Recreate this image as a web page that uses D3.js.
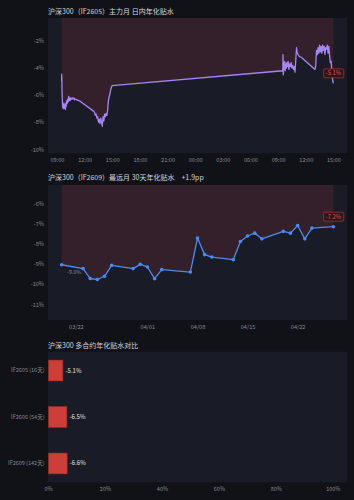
<!DOCTYPE html>
<html>
<head>
<meta charset="utf-8">
<script src="https://cdn.jsdelivr.net/npm/d3@7"></script>
<style>
  body { margin: 0; background: #111217; }
  text { font-family: "Noto Sans CJK SC", "Noto Sans", sans-serif; }
</style>
</head>
<body>
<script>
// ---- data ----
// intraday annualised basis of IF2605, two sessions
var intradayTimes = [
  "04-27 09:30","04-27 09:31","04-27 09:33","04-27 09:35","04-27 09:37","04-27 09:39","04-27 09:41","04-27 09:43",
  "04-27 09:45","04-27 09:47","04-27 09:49","04-27 09:51","04-27 09:53","04-27 09:55","04-27 09:58","04-27 10:01",
  "04-27 10:04","04-27 10:07","04-27 10:10","04-27 10:13","04-27 10:16","04-27 10:19","04-27 10:22","04-27 10:26",
  "04-27 10:30","04-27 10:35","04-27 10:40","04-27 10:45","04-27 10:50","04-27 10:55","04-27 11:00","04-27 11:10",
  "04-27 11:20","04-27 11:30","04-27 13:00","04-27 13:05","04-27 13:10","04-27 13:15","04-27 13:20","04-27 13:25",
  "04-27 13:30","04-27 13:35","04-27 13:40","04-27 13:45","04-27 13:50","04-27 13:55","04-27 14:00","04-27 14:05",
  "04-27 14:10","04-27 14:15","04-27 14:20","04-27 14:25","04-27 14:30","04-27 14:35","04-27 14:40","04-27 14:45",
  "04-27 14:50","04-27 14:55","04-27 15:00",
  "04-28 09:30","04-28 09:32","04-28 09:34","04-28 09:37","04-28 09:40","04-28 09:43","04-28 09:46","04-28 09:50",
  "04-28 09:53","04-28 09:57","04-28 10:00","04-28 10:05","04-28 10:10","04-28 10:15","04-28 10:20","04-28 10:25",
  "04-28 10:30","04-28 10:35","04-28 10:40","04-28 10:45","04-28 10:50","04-28 10:55","04-28 11:00","04-28 11:05",
  "04-28 11:10","04-28 11:15","04-28 11:20","04-28 11:30","04-28 13:00","04-28 13:05","04-28 13:10","04-28 13:15",
  "04-28 13:20","04-28 13:25","04-28 13:30","04-28 13:35","04-28 13:40","04-28 13:45","04-28 13:50","04-28 13:55",
  "04-28 14:00","04-28 14:05","04-28 14:10","04-28 14:15","04-28 14:20","04-28 14:25","04-28 14:30","04-28 14:35",
  "04-28 14:40","04-28 14:45","04-28 14:50","04-28 14:55","04-28 15:00"
];
var intradayValues = [
  -5.0,-4.45,-5.8,-6.4,-6.9,-6.7,-7.0,-6.8,
  -6.6,-6.9,-6.7,-7.0,-6.8,-7.05,-6.6,-6.8,
  -6.4,-6.6,-6.3,-6.5,-6.1,-6.4,-6.2,-6.4,
  -6.2,-6.3,-6.2,-6.3,-6.2,-6.35,-6.3,-6.35,
  -6.4,-6.45,-7.2,-7.3,-7.5,-7.4,-7.7,-7.6,
  -8.0,-7.8,-8.1,-7.7,-8.0,-8.3,-7.6,-7.9,
  -7.4,-7.6,-7.35,-7.5,-7.1,-6.4,-6.1,-5.9,
  -5.6,-5.4,-5.3,
  -4.2,-3.0,-4.5,-3.6,-4.1,-3.5,-4.2,-3.7,
  -4.0,-3.6,-3.9,-3.5,-4.1,-3.7,-3.9,-3.6,
  -4.0,-3.8,-4.1,-3.9,-4.3,-3.4,-2.5,-2.9,
  -3.0,-3.1,-3.15,-3.2,-4.1,-3.8,-2.7,-3.0,
  -2.5,-2.9,-2.3,-2.8,-2.4,-2.9,-2.3,-2.7,
  -2.4,-3.0,-2.5,-2.6,-2.3,-2.9,-2.4,-3.1,
  -3.6,-3.5,-4.3,-4.9,-5.13
];
var intradayTicksY = [-2, -4, -6, -8, -10];

// 30-day annualised basis of IF2609
var farDates = ["03-20","03-23","03-24","03-25","03-26","03-27","03-30","03-31","04-01","04-02","04-03",
  "04-07","04-08","04-09","04-10","04-13","04-14","04-15","04-16","04-17","04-20","04-21","04-22","04-23","04-24","04-27"];
var farValues = [-9.04,-9.23,-9.72,-9.77,-9.61,-9.07,-9.23,-9.02,-9.15,-9.73,-9.28,
  -9.4,-7.72,-8.54,-8.66,-8.79,-7.89,-7.62,-7.48,-7.76,-7.39,-7.48,-7.1,-7.76,-7.23,-7.16];
var farTicksX = ["03-22","04-01","04-08","04-15","04-22"];
var farTicksY = [-6, -7, -8, -9, -10, -11];

// contract comparison
var contracts = ["IF2605 (16天)", "IF2606 (54天)", "IF2609 (142天)"];
var contractValues = [-5.1, -6.5, -6.6];
var barTicksX = [0, 20, 40, 60, 80, 100];

// ---- setup ----
var W = 354, H = 500;
var plotBg = "#191c26", shade = "#34202a", axisText = "#868b97", titleText = "#d4d6dc";
var parseT = d3.timeParse("%Y-%m-%d %H:%M");
var parseD = d3.timeParse("%Y-%m-%d");
var pct = function (v) { return v.toFixed(1) + "%"; };

var svg = d3.select("body").append("svg")
  .attr("width", W).attr("height", H);

function title(y, txt) {
  return svg.append("text").attr("x", 48).attr("y", y)
    .attr("fill", titleText).attr("font-size", 7).text(txt);
}

// shared line + fill block for the two time charts
function timeChart(box, xs, vals, lineColor, xTickVals, xFmt, yTickVals, dots) {
  svg.append("rect").attr("x", box.l).attr("y", box.t)
    .attr("width", box.r - box.l).attr("height", box.b - box.t).attr("fill", plotBg);

  var ext = d3.extent(xs), span = ext[1] - ext[0];
  var x = d3.scaleTime()
    .domain([new Date(+ext[0] - span * 0.05), new Date(+ext[1] + span * 0.05)])
    .range([box.l, box.r]);
  var vext = d3.extent(vals);
  var y = d3.scaleLinear().domain([vext[0] - 2, vext[1] + 2]).range([box.b, box.t]);

  var pts = xs.map(function (d, i) { return [d, vals[i]]; });

  svg.append("path").datum(pts)
    .attr("fill", shade)
    .attr("d", d3.area().x(function (d) { return x(d[0]); })
      .y0(box.t).y1(function (d) { return y(d[1]); }));

  svg.append("path").datum(pts)
    .attr("fill", "none").attr("stroke", lineColor).attr("stroke-width", 1.3)
    .attr("stroke-linejoin", "round")
    .attr("d", d3.line().x(function (d) { return x(d[0]); }).y(function (d) { return y(d[1]); }));

  if (dots) {
    svg.append("g").selectAll("circle").data(pts).enter().append("circle")
      .attr("cx", function (d) { return x(d[0]); })
      .attr("cy", function (d) { return y(d[1]); })
      .attr("r", 1.8).attr("fill", lineColor);
  }

  var gx = svg.append("g").attr("transform", "translate(0," + box.b + ")")
    .call(d3.axisBottom(x).tickValues(xTickVals).tickFormat(xFmt).tickSize(0).tickPadding(5));
  var gy = svg.append("g").attr("transform", "translate(" + box.l + ",0)")
    .call(d3.axisLeft(y).tickValues(yTickVals).tickFormat(function (d) { return d + "%"; }).tickSize(0).tickPadding(4));
  [gx, gy].forEach(function (g) {
    g.select(".domain").remove();
    g.selectAll("text").attr("fill", axisText).attr("font-size", 5.6)
      .attr("font-family", "\"Noto Sans\", sans-serif");
  });

  // last value badge
  var last = pts[pts.length - 1];
  var bx = x(last[0]), by = y(last[1]) - 10;
  var badge = svg.append("g");
  var bt = badge.append("text").attr("x", bx).attr("y", by + 2)
    .attr("text-anchor", "middle").attr("font-size", 5.8).attr("fill", "#e0504a")
    .attr("font-family", "\"Noto Sans\", sans-serif")
    .text(pct(last[1]));
  var bb = bt.node().getBBox();
  badge.insert("rect", "text")
    .attr("x", bb.x - 2).attr("y", by - 4.5).attr("width", bb.width + 4).attr("height", 9)
    .attr("rx", 1.2).attr("fill", "#2a171c").attr("stroke", "#a8322f").attr("stroke-width", 0.8);

  return { x: x, y: y, pts: pts };
}

// ---- chart 1: intraday ----
title(13.5, "沪深300（IF2605）主力月 日内年化贴水");
var tTimes = intradayTimes.map(function (s) { return parseT("2026-" + s); });
var hourTicks = d3.timeHour.every(3).range(
  parseT("2026-04-27 09:00"), parseT("2026-04-28 15:01"));
timeChart({ l: 48, r: 347, t: 18, b: 153.3 }, tTimes, intradayValues, "#a685f5",
  hourTicks, d3.timeFormat("%H:%M"), intradayTicksY, false);

// ---- chart 2: far month 30 days ----
var d0 = farValues[0], d1 = farValues[farValues.length - 1];
title(180, "沪深300（IF2609）最远月 30天年化贴水")
  .append("tspan").attr("dx", 7)
  .text((d1 - d0 >= 0 ? "+" : "") + (d1 - d0).toFixed(1) + "pp");
var fDates = farDates.map(function (s) { return parseD("2026-" + s); });
var c2 = timeChart({ l: 48, r: 347, t: 185, b: 320 }, fDates, farValues, "#4a8bf0",
  farTicksX.map(function (s) { return parseD("2026-" + s); }), d3.timeFormat("%m/%d"), farTicksY, true);
svg.append("text")
  .attr("x", c2.x(c2.pts[0][0]) + 5.5).attr("y", c2.y(c2.pts[0][1]) + 9.5)
  .attr("font-size", 5.4).attr("fill", axisText)
  .attr("font-family", "\"Noto Sans\", sans-serif")
  .text(pct(d0));

// ---- chart 3: contract comparison ----
title(347.5, "沪深300 多合约年化贴水对比");
var b3 = { l: 48, r: 347, t: 351.7, b: 482.3 };
svg.append("rect").attr("x", b3.l).attr("y", b3.t)
  .attr("width", b3.r - b3.l).attr("height", b3.b - b3.t).attr("fill", plotBg);
var xb = d3.scaleLinear().domain([0, 105]).range([b3.l, b3.r]);
var yb = d3.scaleBand().domain(contracts).range([b3.t, b3.b]).paddingInner(0.55).paddingOuter(0.18);

svg.append("g").selectAll("rect").data(contracts).enter().append("rect")
  .attr("x", xb(0) + 0.4)
  .attr("y", function (d) { return yb(d); })
  .attr("width", function (d, i) { return xb(Math.abs(contractValues[i])) - xb(0); })
  .attr("height", yb.bandwidth())
  .attr("fill", "#cc3f39").attr("stroke", "#8f2a27").attr("stroke-width", 0.6);

svg.append("g").selectAll("text").data(contracts).enter().append("text")
  .attr("x", function (d, i) { return xb(Math.abs(contractValues[i])) + 3; })
  .attr("y", function (d) { return yb(d) + yb.bandwidth() / 2 + 2; })
  .attr("font-size", 6).attr("fill", "#e6e7ea")
  .attr("font-family", "\"Noto Sans\", sans-serif")
  .text(function (d, i) { return pct(contractValues[i]); });

var gx3 = svg.append("g").attr("transform", "translate(0," + b3.b + ")")
  .call(d3.axisBottom(xb).tickValues(barTicksX).tickFormat(function (d) { return d + "%"; }).tickSize(0).tickPadding(5));
var gy3 = svg.append("g").attr("transform", "translate(" + b3.l + ",0)")
  .call(d3.axisLeft(yb).tickSize(0).tickPadding(3.5));
[gx3, gy3].forEach(function (g) {
  g.select(".domain").remove();
  g.selectAll("text").attr("fill", axisText).attr("font-size", 5.5)
    .attr("font-family", "\"Noto Sans\", \"Noto Sans CJK SC\", sans-serif");
});
</script>
</body>
</html>
